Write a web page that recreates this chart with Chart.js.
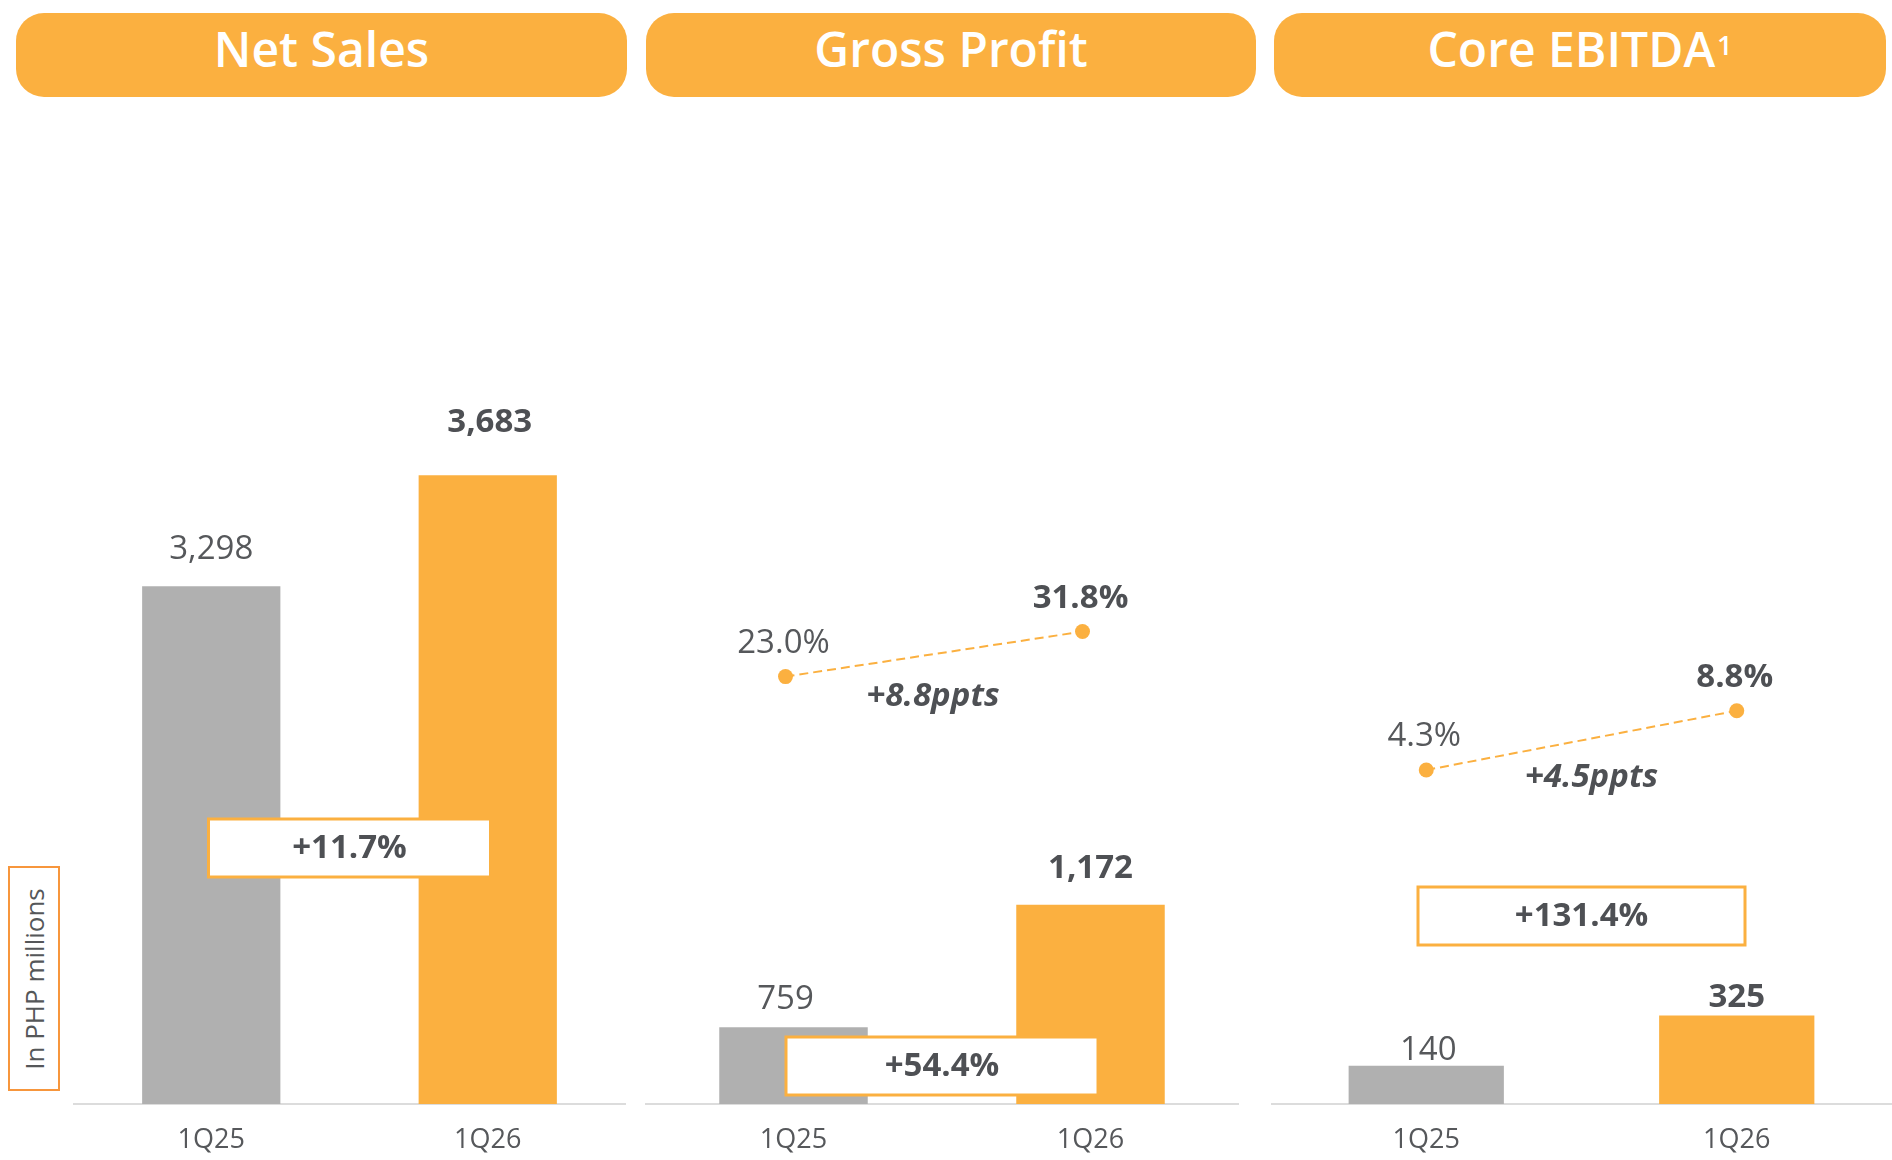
<!DOCTYPE html>
<html><head><meta charset="utf-8">
<script src="https://cdn.jsdelivr.net/npm/chart.js@4.4.1/dist/chart.umd.min.js"></script>
<style>
html,body{margin:0;padding:0;background:#fff;width:1892px;height:1160px;overflow:hidden;font-family:"Open Sans",sans-serif;}
.pill{position:absolute;top:13px;height:84px;background:#FBB040;border-radius:28px;color:#fff;font-weight:600;font-size:48px;display:flex;align-items:center;justify-content:center;line-height:1;padding-bottom:13px;box-sizing:border-box;white-space:nowrap}
.pill sup{font-size:27px;position:relative;top:-4px;margin-left:2px}
canvas{position:absolute}
#unit{position:absolute;left:8px;top:866px;width:52px;height:225px;border:2px solid #F7963C;box-sizing:border-box;}
#unit span{position:absolute;left:50%;top:50%;transform:translate(-50%,-50%) rotate(-90deg);white-space:nowrap;font-size:26px;color:#555759;}
</style></head>
<body>
<div id="unit"><span>In PHP millions</span></div>
<script>
// ---- data ----
const categories = ['1Q25', '1Q26'];
const netSales = [3298, 3683];
const grossProfit = [759, 1172];
const coreEbitda = [140, 325];
const grossMargin = [23.0, 31.8];
const ebitdaMargin = [4.3, 8.8];
const panelTitles = ['Net Sales', 'Gross Profit', 'Core EBITDA'];
const titleNotes = ['', '', '1'];
const growthLabels = ['+11.7%', '+54.4%', '+131.4%'];
const marginChangeLabels = ['', '+8.8ppts', '+4.5ppts'];

// ---- style / layout ----
const ORANGE = '#FBB040';
const GREY = '#B0B0B0';
const TXT = '#56585B';
const TXT_B = '#4E5054';
const FONT = '"Open Sans", sans-serif';
Chart.defaults.font.family = FONT;

const pills = [[16, 611], [646, 610], [1274, 612]];
const panels = [
  {left: 73, width: 553, values: netSales, margins: null, yMin: 1500, yMax: 5000,
   valGap: [37, 53], valDx: [0, 2], boxCy: 752, boxW: 282},
  {left: 645, width: 594, values: grossProfit, margins: grossMargin, yMin: 500, yMax: 3900,
   y2Min: -60.56, y2Max: 136.5, lineShift: -8, valGap: [28, 36], valDx: [-8, 0], boxCy: 970, boxW: 312,
   pDx: -1, pDy: 43},
  {left: 1271, width: 621, values: coreEbitda, margins: ebitdaMargin, yMin: 0, yMax: 3700,
   y2Min: -21.04, y2Max: 55.44, lineShift: 0, valGap: [15, 18], valDx: [2, 0], boxCy: 820, boxW: 327,
   pDx: 10, pDy: 37}
];
const TOP = 96, AXIS_H = 56, CH = 1104 - TOP + AXIS_H;

// pills
panelTitles.forEach((t, i) => {
  const d = document.createElement('div');
  d.className = 'pill';
  d.style.left = pills[i][0] + 'px';
  d.style.width = pills[i][1] + 'px';
  d.textContent = t;
  if (titleNotes[i]) { const s = document.createElement('sup'); s.textContent = titleNotes[i]; d.appendChild(s); }
  document.body.appendChild(d);
});

const annot = {
  id: 'annot',
  beforeDatasetDraw(chart, args, o) {
    if (args.index === 1) { chart.ctx.save(); chart.ctx.translate(o.lineShift, 0); }
  },
  afterDatasetDraw(chart, args, o) {
    if (args.index === 1) chart.ctx.restore();
  },
  afterDatasetsDraw(chart, args, o) {
    const ctx = chart.ctx;
    const bars = chart.getDatasetMeta(0).data;
    const vals = chart.data.datasets[0].data;
    ctx.save();
    ctx.textAlign = 'center';
    ctx.textBaseline = 'middle';
    bars.forEach((b, i) => {
      ctx.font = (i === 1 ? '700 ' : '400 ') + '33px ' + FONT;
      ctx.fillStyle = i === 1 ? TXT_B : TXT;
      ctx.fillText(vals[i].toLocaleString('en-US'), b.x + o.valDx[i], b.y - o.valGap[i]);
    });
    if (chart.data.datasets.length > 1) {
      const pts = chart.getDatasetMeta(1).data;
      const mv = chart.data.datasets[1].data;
      pts.forEach((p, i) => {
        ctx.font = (i === 1 ? '700 ' : '400 ') + '33px ' + FONT;
        ctx.fillStyle = i === 1 ? TXT_B : TXT;
        ctx.fillText(mv[i].toFixed(1) + '%', p.x + o.lineShift - 2, p.y - 33);
      });
      ctx.font = 'italic 700 33px ' + FONT;
      ctx.fillStyle = TXT_B;
      const mx = (pts[0].x + pts[1].x) / 2 + o.lineShift, my = (pts[0].y + pts[1].y) / 2;
      ctx.fillText(o.pptsLabel, mx + o.pDx, my + o.pDy);
    }
    const cx = (bars[0].x + bars[1].x) / 2, h = 58;
    ctx.fillStyle = '#fff';
    ctx.fillRect(cx - o.boxW / 2, o.boxCy - h / 2, o.boxW, h);
    ctx.strokeStyle = ORANGE;
    ctx.lineWidth = 3;
    ctx.strokeRect(cx - o.boxW / 2, o.boxCy - h / 2, o.boxW, h);
    ctx.font = '700 33px ' + FONT;
    ctx.fillStyle = TXT_B;
    ctx.fillText(o.growth, cx, o.boxCy + 1);
    ctx.restore();
  }
};

panels.forEach((p, i) => {
  const c = document.createElement('canvas');
  c.width = p.width; c.height = CH;
  c.style.left = p.left + 'px'; c.style.top = TOP + 'px';
  c.style.width = p.width + 'px'; c.style.height = CH + 'px';
  document.body.appendChild(c);
  const datasets = [{
    type: 'bar', data: p.values, backgroundColor: [GREY, ORANGE],
    barPercentage: 0.5, categoryPercentage: 1.0, yAxisID: 'y'
  }];
  const scales = {
    x: {offset: true, grid: {display: false, drawTicks: false},
        border: {display: true, color: '#DCDCDC', width: 2},
        ticks: {color: TXT, font: {size: 27}, padding: 20},
        afterFit(s) { s.height = AXIS_H; }},
    y: {display: false, min: p.yMin, max: p.yMax}
  };
  if (p.margins) {
    datasets.push({
      type: 'line', data: p.margins, yAxisID: 'y2',
      borderColor: ORANGE, borderWidth: 2, borderDash: [9, 5], pointRadius: 7.5,
      pointBackgroundColor: ORANGE, pointBorderWidth: 0, clip: false, fill: false
    });
    scales.y2 = {display: false, min: p.y2Min, max: p.y2Max};
  }
  new Chart(c, {
    type: 'bar',
    data: {labels: categories, datasets},
    options: {
      responsive: false, animation: false, devicePixelRatio: 1,
      layout: {padding: 0, autoPadding: false},
      plugins: {legend: {display: false}, tooltip: {enabled: false},
        annot: {valGap: p.valGap, valDx: p.valDx, boxCy: p.boxCy, boxW: p.boxW, lineShift: p.lineShift || 0,
                growth: growthLabels[i], pptsLabel: marginChangeLabels[i], pDx: p.pDx || 0, pDy: p.pDy || 0}},
      scales
    },
    plugins: [annot]
  });
});
</script>
</body></html>
